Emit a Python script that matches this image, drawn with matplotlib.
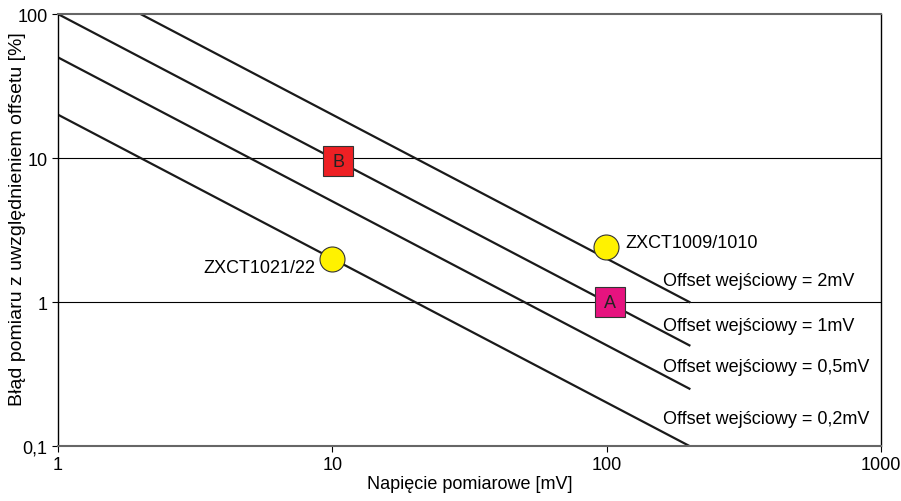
import matplotlib
matplotlib.use("Agg")
from matplotlib import pyplot as plt

plt.rcParams['font.family'] = ['Liberation Sans', 'DejaVu Sans']

# offset lines: endpoints (voltage mV, error %)
offset_labels = ["Offset wejściowy = 2mV", "Offset wejściowy = 1mV",
                 "Offset wejściowy = 0,5mV", "Offset wejściowy = 0,2mV"]
line_x = [[2, 200], [1, 200], [1, 200], [1, 200]]
line_y = [[100, 1], [100, 0.5], [50, 0.25], [20, 0.1]]

# marked points
square_names = ["B", "A"]
square_x = [10.5, 103]
square_y = [9.5, 1.0]
square_colors = ["#ee2024", "#e6137f"]

circle_names = ["ZXCT1021/22", "ZXCT1009/1010"]
circle_x = [10, 99]
circle_y = [2.0, 2.4]

x_ticks = [1, 10, 100, 1000]
x_ticklabels = ["1", "10", "100", "1000"]
y_ticks = [0.1, 1, 10, 100]
y_ticklabels = ["0,1", "1", "10", "100"]

fig = plt.figure(figsize=(9.01, 5.02), dpi=100)
ax = fig.add_axes([0.0644, 0.1096, 0.9136, 0.8604])
ax.set_xscale("log")
ax.set_yscale("log")
ax.set_xlim(1, 1000)
ax.set_ylim(0.1, 100)

for yg in [1, 10]:
    ax.axhline(yg, color="black", lw=0.8, zorder=1)

for xs, ys in zip(line_x, line_y):
    ax.plot(xs, ys, color="#1a1a1a", lw=1.6, zorder=2)

for name, x, y, c in zip(square_names, square_x, square_y, square_colors):
    ax.plot(x, y, marker="s", ms=22, mfc=c, mec="#333333", mew=0.8, zorder=4)
    ax.text(x, y, name, ha="center", va="center", fontsize=13, color="#222222", zorder=5)

for x, y in zip(circle_x, circle_y):
    ax.plot(x, y, marker="o", ms=18, mfc="#fff200", mec="#333333", mew=0.8, zorder=4)

ax.text(8.65, 1.75, circle_names[0], ha="right", va="center", fontsize=13)
ax.text(116.7, 2.57, circle_names[1], ha="left", va="center", fontsize=13)

label_y = [1.42, 0.692, 0.354, 0.156]
for lab, ly in zip(offset_labels, label_y):
    ax.text(160.6, ly, lab, ha="left", va="center", fontsize=13)

ax.set_xticks(x_ticks)
ax.set_xticklabels(x_ticklabels)
ax.set_yticks(y_ticks)
ax.set_yticklabels(y_ticklabels)
ax.minorticks_off()
ax.tick_params(axis="both", labelsize=13, length=4, width=0.8, direction="out")

for s in ["top", "bottom"]:
    ax.spines[s].set_color("#666666")
    ax.spines[s].set_linewidth(1.5)
for s in ["left", "right"]:
    ax.spines[s].set_color("black")
    ax.spines[s].set_linewidth(1.0)

ax.set_xlabel("Napięcie pomiarowe [mV]", fontsize=13, labelpad=1)
ax.set_ylabel("Błąd pomiaru z uwzględnieniem offsetu [%]", fontsize=14)
ax.yaxis.label.set_va("center")
ax.yaxis.set_label_coords(-0.049, 0.528)

fig.savefig("out.png", dpi=100)
